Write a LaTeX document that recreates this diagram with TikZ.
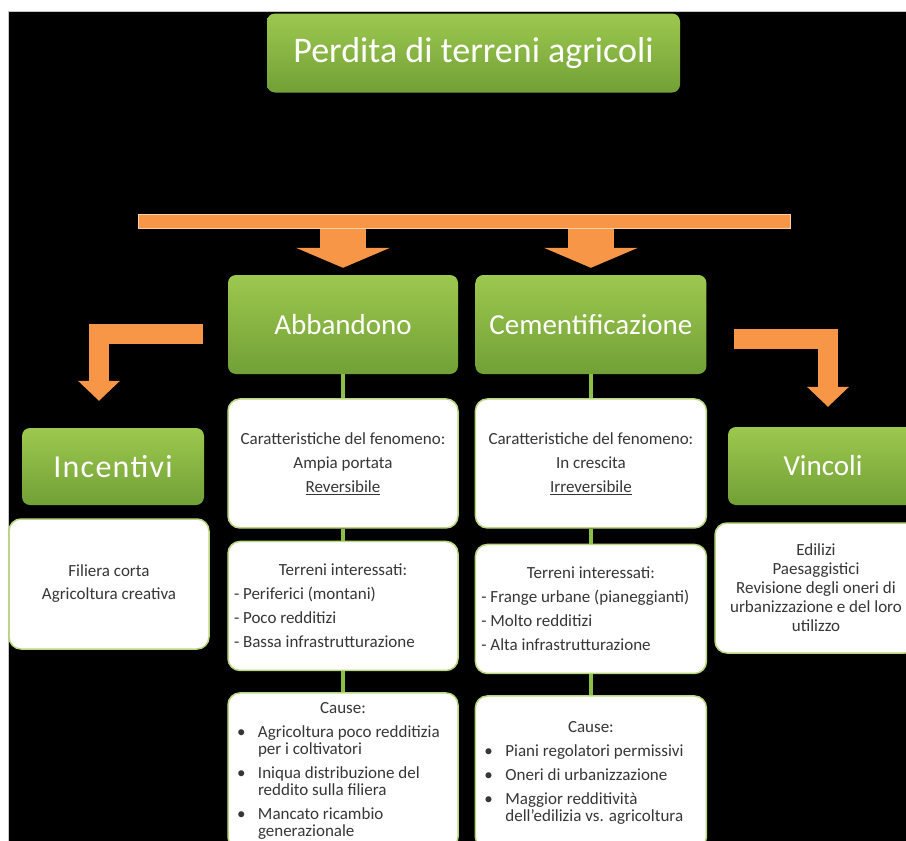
\documentclass[tikz,border=0pt]{standalone}
\usepackage{fontspec}
\setmainfont{Carlito}
\usetikzlibrary{positioning, arrows.meta}
\definecolor{leafTop}{HTML}{9DC84F}
\definecolor{leafBot}{HTML}{71A036}
\definecolor{carrot}{HTML}{F79646}
\definecolor{rim}{HTML}{B9D77E}
\definecolor{stem}{HTML}{8BBF45}
\definecolor{ink}{HTML}{363636}
\newcommand{\voce}[1]{\par\hangindent=24pt\hangafter=1\noindent\hspace*{3pt}\makebox[21pt][l]{\textbullet}#1\par}
\tikzset{
  greenbox/.style={rounded corners=8pt, top color=leafTop, bottom color=leafBot, text=white, inner sep=0pt},
  whitebox/.style={rounded corners=12pt, fill=white, draw=rim, line width=1.5pt, text=ink, inner xsep=6pt, align=center, font=\fontsize{17}{24}\selectfont},
  listbox/.style={whitebox, align=left, text width=#1, font=\fontsize{17}{17}\selectfont,
    execute at begin node={\setlength{\parskip}{7pt}\setlength{\parindent}{0pt}\spaceskip=0pt\xspaceskip=0pt}},
  link/.style={draw=stem, line width=4pt},
  droparrow/.style={draw=carrot, line width=46pt, -{Triangle[width=94pt, length=20pt, line width=0pt]}},
  bendarrow/.style={draw=carrot, line width=20pt, line join=miter, -{Triangle[width=42pt, length=20pt, line width=0pt]}},
}

\begin{document}
\begin{tikzpicture}[x=1pt, y=-1pt]
		\clip (0,0) rectangle (906,841);
		\fill[black] (8,11) rectangle (906,841);
		\draw[gray!45] (8,841) -- (8,11) -- (906,11);

		% top
		\node[greenbox, minimum width=413pt, minimum height=79pt, font=\fontsize{36}{40}\selectfont] (title) at (473.5,53) {Perdita di terreni agricoli};
		\node[fill=carrot, draw=carrot!45!white, line width=1pt, minimum width=652pt, minimum height=14pt, inner sep=0pt] (bar) at (464,221) {};

		% the two branches
		\node[greenbox, minimum width=230pt, minimum height=99pt, font=\fontsize{29}{34}\selectfont] (abb) at (343,324.5) {Abbandono};
		\node[greenbox, minimum width=231pt, minimum height=99pt, font=\fontsize{29}{34}\selectfont, right=17pt of abb] (cem) {Cementificazione};

		\node[whitebox, minimum width=230pt, minimum height=129pt, below=24pt of abb] (abb1) {Caratteristiche del fenomeno:\\ Ampia portata\\ \underline{Reversibile}};
		\node[listbox=218pt, minimum height=129pt, below=12pt of abb1] (abb2) {{\centering Terreni interessati:\par}
			- Periferici (montani)\par - Poco redditizi\par - Bassa infrastrutturazione};
		\node[listbox=218pt, minimum height=156pt, below=21pt of abb2] (abb3) {{\centering Cause:\par}
			\voce{Agricoltura poco redditizia\newline per i coltivatori}
			\voce{Iniqua distribuzione del\newline reddito sulla filiera}
			\voce{Mancato ricambio\newline generazionale}};

		\node[whitebox, minimum width=231pt, minimum height=129pt, below=24pt of cem] (cem1) {Caratteristiche del fenomeno:\\ In crescita\\ \underline{Irreversibile}};
		\node[listbox=219pt, minimum height=129pt, below=15pt of cem1] (cem2) {{\centering Terreni interessati:\par}
			- Frange urbane (pianeggianti)\par - Molto redditizi\par - Alta infrastrutturazione};
		\node[listbox=219pt, minimum height=153pt, below=21pt of cem2] (cem3) {{\centering Cause:\par}
			\voce{Piani regolatori permissivi}
			\voce{Oneri di urbanizzazione}
			\voce{Maggior redditività\newline dell'edilizia vs. agricoltura}};

		% sides
		\node[greenbox, minimum width=182pt, minimum height=77pt, font=\fontsize{32}{36}\selectfont\addfontfeatures{LetterSpace=4}] (inc) at (113,466.5) {Incentivi};
		\node[whitebox, minimum width=200pt, minimum height=130pt, font=\fontsize{17}{23}\selectfont] (incw) at (109,584) {Filiera corta\\ Agricoltura creativa};
		\node[greenbox, minimum width=190pt, minimum height=78pt, font=\fontsize{29}{34}\selectfont] (vin) at (823,466) {Vincoli};
		\node[whitebox, minimum width=202pt, minimum height=130pt, font=\fontsize{17}{19}\selectfont] (vinw) at (816,588) {Edilizi\\ Paesaggistici\\ Revisione degli oneri di\\ urbanizzazione e del loro\\ utilizzo};

		% arrows
		\draw[droparrow] (bar.south -| abb) -- ([yshift=7pt]abb.north);
		\draw[droparrow] (bar.south -| cem) -- ([yshift=7pt]cem.north);
		\draw[bendarrow] ([xshift=-25pt, yshift=-9.5pt]abb.west) -| ([xshift=-14pt, yshift=27pt]inc.north);
		\draw[bendarrow] ([xshift=27pt, yshift=-14pt]cem.east) -| ([xshift=5pt, yshift=20pt]vin.north);

		% links
		\draw[link] (abb) -- (abb1);
		\draw[link] (abb1) -- (abb2);
		\draw[link] (abb2) -- (abb3);
		\draw[link] (cem) -- (cem1);
		\draw[link] (cem1) -- (cem2);
		\draw[link] (cem2) -- (cem3);
	\end{tikzpicture}
\end{document}
